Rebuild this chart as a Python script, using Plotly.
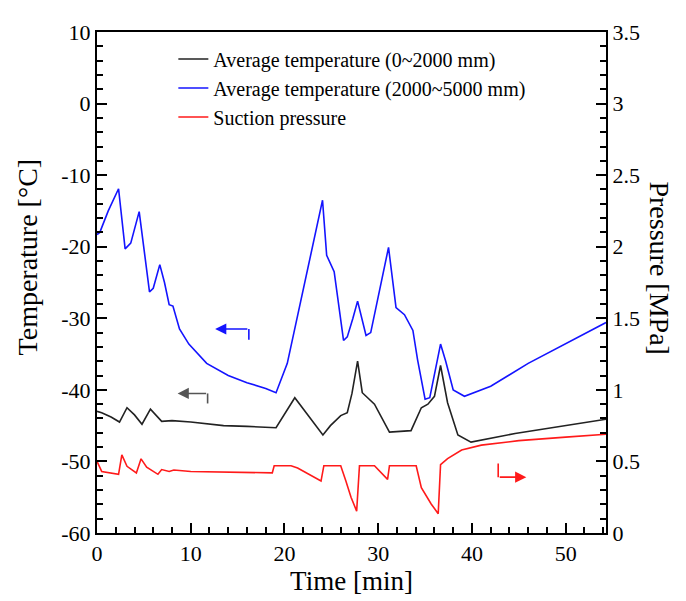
import plotly.graph_objects as go

# ---------------- data ----------------
t_black = [0, 0.5, 1.5, 2.4, 3.2, 4.0, 4.8, 5.7, 6.9, 8, 10, 13.5, 16, 19.1, 21.1, 22.5, 24.1,
           24.9, 26.0, 26.7, 27.2, 27.8, 28.3, 29.6, 30.3, 31.2, 33.5, 34.6, 35.3, 36.0, 36.65,
           37.4, 38.5, 39.9, 44.6, 49, 54.3]
T_black = [-43.0, -43.2, -43.8, -44.5, -42.5, -43.5, -44.8, -42.7, -44.4, -44.3, -44.5, -45.0,
           -45.1, -45.3, -41.1, -43.5, -46.3, -45.0, -43.6, -43.2, -40.5, -36.0, -40.4, -42.0,
           -43.8, -45.9, -45.7, -42.5, -42.0, -40.9, -36.6, -41.8, -46.3, -47.3, -46.1, -45.2,
           -44.1]

t_blue = [0, 0.3, 1.2, 2.3, 3.0, 3.6, 4.5, 5.0, 5.6, 6.0, 6.7, 7.2, 7.7, 8.1, 8.8, 9.8, 11.7,
          14, 16, 18, 19.1, 20.3, 24.06, 24.5, 25.3, 26.3, 26.7, 27.3, 27.8, 28.7, 29.2, 31.1,
          31.9, 32.8, 33.7, 34.2, 35.0, 35.5, 36.0, 36.65, 37.2, 38.0, 39.2, 42, 46, 50, 54.3]
T_blue = [-18.3, -18.0, -15.0, -11.9, -20.3, -19.5, -15.1, -20.0, -26.3, -25.8, -22.5, -25.0,
          -28.1, -28.3, -31.5, -33.6, -36.3, -38.0, -39.0, -39.8, -40.4, -36.3, -13.5, -21.2,
          -23.5, -33.1, -32.6, -30.0, -27.6, -32.4, -32.0, -20.1, -28.5, -29.5, -31.7, -35.8,
          -41.3, -41.1, -38.0, -33.6, -36.0, -40.0, -40.9, -39.5, -36.3, -33.6, -30.6]

t_red = [0, 0.3, 0.5, 2.3, 2.65, 3.2, 4.2, 4.7, 5.3, 6.5, 6.9, 7.7, 8.2, 10, 15, 18.7, 18.9,
         20.7, 21.4, 23.9, 24.2, 26.0, 26.55, 27.1, 27.7, 28.0, 29.6, 30.3, 31.0, 31.2, 34.05,
         34.6, 35.65, 36.4, 36.65, 37.4, 38.9, 41.0, 45, 50, 54.3]
P_red = [0.50, 0.46, 0.43, 0.41, 0.546, 0.466, 0.42, 0.518, 0.46, 0.41, 0.443, 0.43, 0.44,
         0.43, 0.425, 0.42, 0.47, 0.47, 0.454, 0.363, 0.47, 0.47, 0.363, 0.25, 0.153, 0.47,
         0.47, 0.42, 0.375, 0.47, 0.47, 0.317, 0.203, 0.135, 0.477, 0.52, 0.58, 0.614, 0.645,
         0.67, 0.69]

names = ["Average temperature (0~2000 mm)",
         "Average temperature (2000~5000 mm)",
         "Suction pressure"]

temp_ticks = [10, 0, -10, -20, -30, -40, -50, -60]
temp_ticktext = ["10", "0", "-10", "-20", "-30", "-40", "-50", "-60"]
pres_ticks = [0, 0.5, 1, 1.5, 2, 2.5, 3, 3.5]
pres_ticktext = ["0", "0.5", "1", "1.5", "2", "2.5", "3", "3.5"]
time_ticks = [0, 10, 20, 30, 40, 50]
time_ticktext = ["0", "10", "20", "30", "40", "50"]

FONT = "Liberation Serif"


def axis_style(vals, text, minor_dtick, **extra):
    d = dict(tickmode="array", tickvals=vals, ticktext=text,
             showline=True, linecolor="black", linewidth=2,
             ticks="inside", tickcolor="black", tickwidth=2, ticklen=10,
             showgrid=False, zeroline=False,
             tickfont=dict(family=FONT, size=22, color="black"),
             minor=dict(dtick=minor_dtick, ticks="inside", ticklen=6,
                        tickcolor="black", tickwidth=1.5, showgrid=False))
    d.update(extra)
    return d


fig = go.Figure()
fig.add_trace(go.Scatter(x=t_black, y=T_black, mode="lines", name=names[0],
                         line=dict(color="#222222", width=1.6)))
fig.add_trace(go.Scatter(x=t_blue, y=T_blue, mode="lines", name=names[1],
                         line=dict(color="#1414ff", width=1.6)))
fig.add_trace(go.Scatter(x=t_red, y=P_red, mode="lines", name=names[2], yaxis="y2",
                         line=dict(color="#ff1a1a", width=1.6)))

fig.update_layout(
    width=678, height=593,
    margin=dict(l=89, r=80, t=14, b=68),
    paper_bgcolor="white", plot_bgcolor="white",
    font=dict(family=FONT, color="black"),
    xaxis=axis_style(time_ticks, time_ticktext, 2, range=[0, 54.3], mirror=True,
                     title=dict(text="Time [min]", font=dict(family=FONT, size=27), standoff=2)),
    yaxis=axis_style(temp_ticks, temp_ticktext, 2, range=[-60, 10]),
    yaxis2=axis_style(pres_ticks, pres_ticktext, 0.1, range=[0, 3.5],
                      overlaying="y", side="right"),
    legend=dict(x=0.15, y=0.985, xanchor="left", yanchor="top",
                bgcolor="rgba(0,0,0,0)", font=dict(family=FONT, size=20, color="black"),
                tracegroupgap=0),
    showlegend=True,
)

fig.add_annotation(text="Temperature [°C]", xref="paper", yref="paper", x=0, y=0.55,
                   xanchor="center", yanchor="middle",
                   xshift=-70, textangle=-90, showarrow=False,
                   font=dict(family=FONT, size=28))
fig.add_annotation(text="Pressure [MPa]", xref="paper", yref="paper", x=1, y=0.53,
                   xanchor="center", yanchor="middle",
                   xshift=54, textangle=90, showarrow=False,
                   font=dict(family=FONT, size=28))

arrows = [
    (12.6, 16.2, -31.5, -33.0, "#1414ff"),
    (8.6, 11.8, -40.5, -41.9, "#555555"),
]
for tip, corner, yy, yend, col in arrows:
    fig.add_annotation(x=tip, y=yy, ax=corner, ay=yy, xref="x", yref="y", axref="x", ayref="y",
                       showarrow=True, arrowhead=2, arrowsize=1.4, arrowwidth=1.6,
                       arrowcolor=col, text="")
    fig.add_shape(type="line", x0=corner, x1=corner, y0=yy, y1=yend, xref="x", yref="y",
                  line=dict(color=col, width=1.6))

fig.add_shape(type="line", x0=42.8, x1=42.8, y0=-50.3, y1=-52.2, xref="x", yref="y",
              line=dict(color="#ff1a1a", width=1.6))
fig.add_annotation(x=45.8, y=-52.2, ax=42.8, ay=-52.2, xref="x", yref="y", axref="x", ayref="y",
                   showarrow=True, arrowhead=2, arrowsize=1.4, arrowwidth=1.6,
                   arrowcolor="#ff1a1a", text="")

fig.write_html("out.html")
